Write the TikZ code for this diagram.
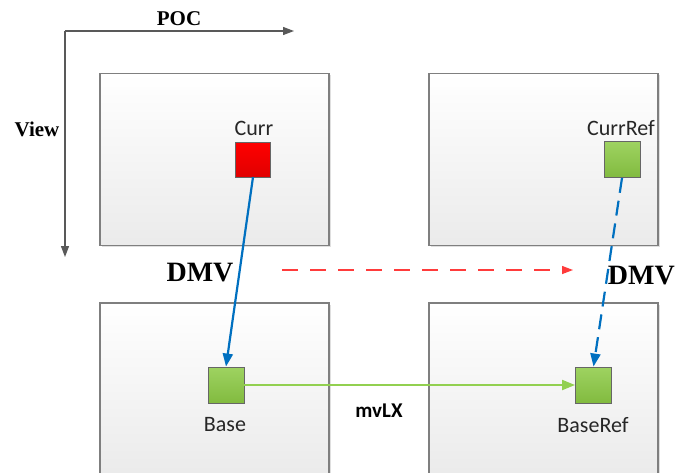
\documentclass[tikz,border=0pt]{standalone}
\usepackage{fontspec}
\setmainfont{Liberation Serif}
\newfontfamily\calfont{Carlito}
\usetikzlibrary{arrows.meta,shadows}
\definecolor{boxline}{HTML}{7F7F7F}
\definecolor{axisgray}{HTML}{595959}
\definecolor{bluearrow}{HTML}{0070C0}
\definecolor{greenfill}{HTML}{8DCB45}
\definecolor{greenline}{HTML}{92D050}
\definecolor{reddash}{HTML}{FF3B3B}
\tikzset{
  bigbox/.style={draw=boxline, line width=1.3pt, top color=white, bottom color=black!8,
    minimum width=229, minimum height=172, inner sep=0pt,
    drop shadow={shadow xshift=1.5pt, shadow yshift=-1.5pt, opacity=0.25}},
  redsq/.style={draw=black!60, line width=0.9pt, top color=red, bottom color=red!88!black,
    minimum width=35, minimum height=35, inner sep=0pt},
  greensq/.style={draw=black!60, line width=0.9pt, top color=greenfill!85!white, bottom color=greenfill!92!black,
    minimum width=36, minimum height=36, inner sep=0pt},
  lbl/.style={font=\calfont\fontsize{22}{26}\selectfont, text=black!85, inner sep=0pt},
  biglbl/.style={font=\bfseries\fontsize{28}{32}\selectfont, inner sep=0pt},
  axlbl/.style={font=\bfseries\fontsize{21}{25}\selectfont, inner sep=0pt},
  axisarrow/.style={draw=axisgray, line width=1.2pt, -{Triangle[length=11pt,width=8pt]}},
}
\begin{document}
\begin{tikzpicture}[x=1pt,y=-1pt]
\clip (0,0) rectangle (676,472);
\fill[white] (0,0) rectangle (676,472);
% axes
\coordinate (corner) at (65,31);
\coordinate (pocend) at (294,31);
\coordinate (viewend) at (65,257);
\draw[axisarrow] (corner) -- (pocend);
\draw[axisarrow] (corner) -- (viewend);
\node[axlbl] (poc) at (179,19) {POC};
\node[axlbl] (view) at (37,129) {View};
% boxes
\node[bigbox] (tl) at (214.5,159.5) {};
\node[bigbox] (tr) at (543.5,159.5) {};
\node[bigbox] (bl) at (214.5,389) {};
\node[bigbox] (br) at (543.5,389) {};
% squares
\node[redsq] (curr) at (252.5,159.5) {};
\node[greensq] (currref) at (622,159.5) {};
\node[greensq] (base) at (226,385) {};
\node[greensq] (baseref) at (593.5,385) {};
% labels
\node[lbl] (currl) at (254,128) {Curr};
\node[lbl] (currrefl) at (621,128) {CurrRef};
\node[lbl] (basel) at (225,425) {Base};
\node[lbl] (baserefl) at (593,425) {BaseRef};
\node[biglbl] (dmv1) at (200,273) {DMV};
\node[biglbl, anchor=east] (dmv2) at (675,276) {DMV};
\node[font=\calfont\bfseries\fontsize{21}{25}\selectfont, inner sep=0pt] (mvlx) at (379,411) {mvLX};
% arrows
\draw[bluearrow, line width=2.2pt, -{Triangle[length=13pt,width=10pt]}] (253,177) -- (base.north);
\draw[bluearrow, line width=2.2pt, dash pattern=on 15pt off 8pt, -{Triangle[length=13pt,width=10pt]}] (currref.south) -- (baseref.north);
\draw[greenline, line width=2pt, -{Triangle[length=13pt,width=10pt]}] (base.east) -- (baseref.west);
\coordinate (rs) at (282,270);
\coordinate (re) at (573,270);
\draw[reddash, line width=1.3pt, dash pattern=on 16pt off 12pt, -{Triangle[length=11pt,width=8pt]}] (rs) -- (re);
\end{tikzpicture}
\end{document}
